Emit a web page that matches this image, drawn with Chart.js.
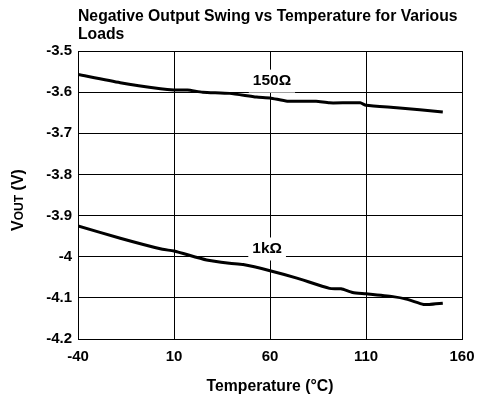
<!DOCTYPE html>
<html>
<head>
<meta charset="utf-8">
<script src="https://cdn.jsdelivr.net/npm/chart.js@4"></script>
<style>
  html, body { margin: 0; padding: 0; background: #fff; }
  canvas { display: block; }
</style>
</head>
<body>
<canvas id="myChart" width="477" height="401"></canvas>
<script>
// data
const temps150 = [-40, -18, 3, 10, 17, 25, 39, 53, 60, 69, 84, 91, 107, 110, 126, 150];
const vout150 = [-3.557, -3.577, -3.592, -3.595, -3.595, -3.6, -3.603, -3.612, -3.614, -3.622, -3.622, -3.626, -3.626, -3.632, -3.638, -3.648];

const temps1k = [-40, -18, 4, 10, 27, 39, 46, 60, 74, 91, 97, 103, 110, 124, 131, 140, 143, 150];
const vout1k = [-3.925, -3.955, -3.982, -3.986, -4.008, -4.016, -4.019, -4.034, -4.052, -4.077, -4.078, -4.087, -4.09, -4.097, -4.103, -4.116, -4.116, -4.113];

const xTicks = [-40, 10, 60, 110, 160];
const yTicks = [-3.5, -3.6, -3.7, -3.8, -3.9, -4, -4.1, -4.2];

const titleLines = ["Negative Output Swing vs Temperature for Various", "Loads"];
const seriesLabels = [
  { text: "150\u03A9", x: 61, y: -3.572 },
  { text: "1k\u03A9", x: 58.5, y: -3.98 }
];

const FONT = "'Liberation Sans', Arial, sans-serif";

function toPoints(xs, ys) {
  return xs.map((x, i) => ({ x: x, y: ys[i] }));
}

// titles + boxed series labels
const decorPlugin = {
  id: "decor",
  beforeDatasetsDraw(chart) {
    const ctx = chart.ctx;
    const xs = chart.scales.x, ys = chart.scales.y;
    ctx.save();
    ctx.font = "bold 15.5px " + FONT;
    seriesLabels.forEach((lab) => {
      const px = xs.getPixelForValue(lab.x);
      const py = ys.getPixelForValue(lab.y);
      const w = ctx.measureText(lab.text).width + 8;
      ctx.fillStyle = "#fff";
      ctx.fillRect(px - w / 2, py - 11, w, 23);
    });
    ctx.restore();
  },
  afterDraw(chart) {
    const ctx = chart.ctx;
    const xs = chart.scales.x, ys = chart.scales.y;
    const area = chart.chartArea;
    ctx.save();
    ctx.fillStyle = "#000";

    // series labels
    ctx.font = "bold 15.5px " + FONT;
    ctx.textAlign = "center";
    ctx.textBaseline = "middle";
    seriesLabels.forEach((lab) => {
      ctx.fillText(lab.text, xs.getPixelForValue(lab.x), ys.getPixelForValue(lab.y));
    });

    // chart title
    ctx.font = "bold 15.75px " + FONT;
    ctx.textAlign = "left";
    ctx.textBaseline = "alphabetic";
    ctx.fillText(titleLines[0], area.left, 21);
    ctx.fillText(titleLines[1], area.left, 39);

    // x axis title
    ctx.textAlign = "center";
    ctx.textBaseline = "middle";
    ctx.fillText("Temperature (\u00B0C)", 270, 387);

    // y axis title, V with small OUT
    ctx.translate(23, 200);
    ctx.rotate(-Math.PI / 2);
    ctx.textBaseline = "alphabetic";
    ctx.textAlign = "left";
    const big = "bold 16px " + FONT, small = "bold 12px " + FONT;
    ctx.font = big;
    const wV = ctx.measureText("V").width;
    const wRest = ctx.measureText(" (V)").width;
    ctx.font = small;
    const wOut = ctx.measureText("OUT").width;
    let cx = -(wV + wOut + wRest) / 2;
    ctx.font = big;
    ctx.fillText("V", cx, 0);
    cx += wV;
    ctx.font = small;
    ctx.fillText("OUT", cx, 0);
    cx += wOut;
    ctx.font = big;
    ctx.fillText(" (V)", cx, 0);
    ctx.restore();
  }
};

const ctx = document.getElementById("myChart").getContext("2d");
new Chart(ctx, {
  type: "line",
  data: {
    datasets: [
      {
        label: "150\u03A9",
        data: toPoints(temps150, vout150),
        borderColor: "#000",
        borderWidth: 3,
        pointRadius: 0,
        tension: 0.2,
        fill: false
      },
      {
        label: "1k\u03A9",
        data: toPoints(temps1k, vout1k),
        borderColor: "#000",
        borderWidth: 3,
        pointRadius: 0,
        tension: 0.2,
        fill: false
      }
    ]
  },
  options: {
    responsive: false,
    animation: false,
    layout: { padding: { top: 51, right: 15, left: 0, bottom: 0 } },
    plugins: {
      legend: { display: false },
      title: { display: false },
      tooltip: { enabled: false }
    },
    scales: {
      x: {
        type: "linear",
        min: xTicks[0],
        max: xTicks[xTicks.length - 1],
        afterBuildTicks: (scale) => { scale.ticks = xTicks.map((v) => ({ value: v })); },
        afterFit: (scale) => {
          scale.height = 62;
          scale.paddingLeft = 0;
          scale.paddingRight = 0;
        },
        grid: { color: "#000", lineWidth: 1, drawTicks: false },
        border: { color: "#000", width: 1 },
        ticks: {
          padding: 9,
          color: "#000",
          font: { family: FONT, size: 15, weight: "bold" },
          maxRotation: 0,
          callback: (v) => String(v)
        }
      },
      y: {
        type: "linear",
        min: yTicks[yTicks.length - 1],
        max: yTicks[0],
        afterBuildTicks: (scale) => { scale.ticks = yTicks.slice().reverse().map((v) => ({ value: v })); },
        afterFit: (scale) => {
          scale.width = 78;
          scale.paddingTop = 0;
          scale.paddingBottom = 0;
        },
        grid: { color: "#000", lineWidth: 1, drawTicks: false },
        border: { color: "#000", width: 1 },
        ticks: {
          padding: 6,
          color: "#000",
          font: { family: FONT, size: 15, weight: "bold" },
          callback: (v) => String(Number(v.toFixed(1)))
        }
      }
    }
  },
  plugins: [decorPlugin]
});
</script>
</body>
</html>
